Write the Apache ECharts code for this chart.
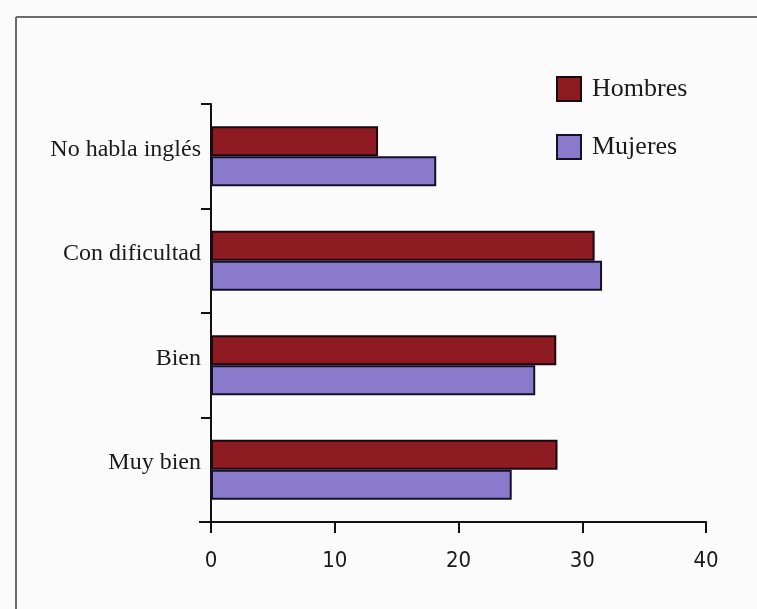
<!DOCTYPE html>
<html>
<head>
<meta charset="utf-8">
<script src="https://cdn.jsdelivr.net/npm/echarts@6/dist/echarts.min.js"></script>
<style>
html,body{margin:0;padding:0;background:#fbfbfb;}
#chart{width:757px;height:609px;}
</style>
</head>
<body>
<div id="chart"></div>
<script>
const categories = ['No habla inglés', 'Con dificultad', 'Bien', 'Muy bien'];
const hombres = [13.5, 31.0, 27.9, 28.0];
const mujeres = [18.2, 31.6, 26.2, 24.3];
const xTicks = [0, 10, 20, 30, 40];

const chart = echarts.init(document.getElementById('chart'), null, {renderer: 'canvas'});
const serif = '"Liberation Serif", "DejaVu Serif", serif';
const narrow = '"Liberation Sans Narrow", "DejaVu Sans Condensed", "Liberation Sans", sans-serif';

chart.setOption({
  backgroundColor: '#fbfbfb',
  animation: false,
  graphic: [
    {type: 'line', shape: {x1: 16, y1: 17, x2: 757, y2: 17}, style: {stroke: '#6b6b6b', lineWidth: 2}},
    {type: 'line', shape: {x1: 16, y1: 17, x2: 16, y2: 609}, style: {stroke: '#6b6b6b', lineWidth: 2}},
    {type: 'line', shape: {x1: 199, y1: 522, x2: 211, y2: 522}, style: {stroke: '#111', lineWidth: 2}}
  ],
  legend: {
    orient: 'vertical',
    left: 551,
    top: 71,
    itemWidth: 24,
    itemHeight: 24,
    itemGap: 32,
    icon: 'rect',
    textStyle: {fontFamily: serif, fontSize: 26, color: '#1a1a1a', lineHeight: 24, padding: [0, 0, 0, 6]},
    data: ['Hombres', 'Mujeres']
  },
  grid: {left: 211, right: 51, top: 104, bottom: 87, containLabel: false},
  xAxis: {
    type: 'value',
    min: 0,
    max: 40,
    interval: 10,
    axisLine: {show: true, lineStyle: {color: '#111', width: 2}},
    axisTick: {show: true, length: 11, lineStyle: {color: '#111', width: 2}},
    splitLine: {show: false},
    axisLabel: {
      margin: 28,
      fontFamily: narrow,
      fontSize: 22,
      color: '#1a1a1a',
      formatter: function (v) { return xTicks.indexOf(v) >= 0 ? String(v) : ''; }
    }
  },
  yAxis: {
    type: 'category',
    inverse: true,
    data: categories,
    axisLine: {show: true, lineStyle: {color: '#111', width: 2}},
    axisTick: {show: true, length: 10, lineStyle: {color: '#111', width: 2}},
    axisLabel: {
      margin: 10,
      fontFamily: serif,
      fontSize: 24,
      color: '#1a1a1a',
      verticalAlign: 'bottom',
      lineHeight: 14
    }
  },
  series: [
    {
      name: 'Hombres',
      type: 'bar',
      data: hombres,
      barWidth: 30,
      barGap: '0%',
      itemStyle: {color: '#8e1a22', borderColor: '#1a0a10', borderWidth: 2}
    },
    {
      name: 'Mujeres',
      type: 'bar',
      data: mujeres,
      barWidth: 30,
      barGap: '0%',
      itemStyle: {color: '#8a7acb', borderColor: '#14102a', borderWidth: 2}
    }
  ]
});
</script>
</body>
</html>
